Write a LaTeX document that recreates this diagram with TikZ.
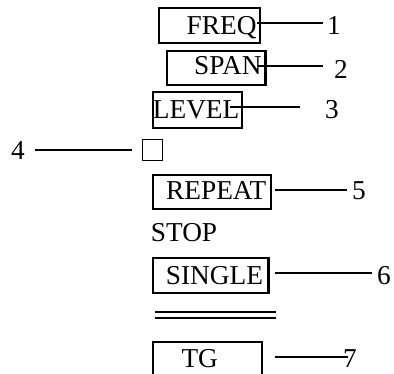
\documentclass[tikz,border=0pt]{standalone}
\usepackage{fontspec}
\setmainfont{Liberation Serif}
\begin{document}
\begin{tikzpicture}[x=1pt,y=-1pt,
  key/.style={draw,line width=2.2pt,rectangle,inner sep=0pt,anchor=north west},
  txt/.style={inner sep=0pt,anchor=base west,font=\fontsize{27.3}{30}\selectfont},
  lead/.style={line width=2pt},
  rule/.style={line width=2.2pt}]
\useasboundingbox (0,0) rectangle (394,374);
\clip (0,0) rectangle (394,374);

% framed keys
\node[key,minimum width=101.3pt,minimum height=35pt] (bfreq)   at (157.7,7.3)   {};
\node[key,minimum width=98.6pt, minimum height=34pt] (bspan)   at (165.7,50)    {};
\node[key,minimum width=89pt,   minimum height=35.7pt] (blevel) at (151.7,91)   {};
\node[key,minimum width=118.3pt,minimum height=34pt] (brepeat) at (151.7,174.3) {};
\node[key,minimum width=115.6pt,minimum height=35pt] (bsingle) at (151.7,257.3) {};
\node[key,minimum width=109.3pt,minimum height=50pt] (btg)     at (151.7,340.7) {};

% key captions
\node[txt] (freq)   at (186.5,35)    {FREQ};
\node[txt] (span)   at (194,75)      {SPAN};
\node[txt] (level)  at (152.7,118.3) {LEVEL};
\node[txt] (repeat) at (166,200)     {REPEAT};
\node[txt] (stop)   at (150.7,241.7) {STOP};
\node[txt] (single) at (165.7,285)   {SINGLE};
\node[txt] (tg)     at (181.3,368)   {TG};

% small indicator square
\node[draw,line width=1pt,inner sep=0pt,minimum width=20pt,minimum height=20.5pt] (sq) at (152.5,150) {};

% double rule
\coordinate (r1a) at (155,311.7); \coordinate (r1b) at (276,311.7);
\coordinate (r2a) at (155,318.3); \coordinate (r2b) at (276,318.3);
\draw[rule] (r1a) -- (r1b);
\draw[rule] (r2a) -- (r2b);

% callout numbers
\node[txt] (n1) at (327,35)    {1};
\node[txt] (n2) at (334,78.3)  {2};
\node[txt] (n3) at (325,118.3) {3};
\node[txt] (n4) at (11,160)    {4};
\node[txt] (n5) at (352,200)   {5};
\node[txt] (n6) at (377,285)   {6};
\node[txt] (n7) at (343,368)   {7};

% leader lines
\coordinate (a1) at (257,23.3);  \coordinate (e1) at (323,23.3);
\coordinate (a2) at (258,65.7);  \coordinate (e2) at (323,65.7);
\coordinate (a3) at (230,107.3); \coordinate (e3) at (300,107.3);
\coordinate (a4) at (35,150);    \coordinate (e4) at (131.7,150);
\coordinate (a5) at (275,190);   \coordinate (e5) at (346.7,190);
\coordinate (a6) at (275,273.3); \coordinate (e6) at (371.7,273.3);
\coordinate (a7) at (275,356.7); \coordinate (e7) at (348,356.7);
\draw[lead] (a1) -- (e1);
\draw[lead] (a2) -- (e2);
\draw[lead] (a3) -- (e3);
\draw[lead] (a4) -- (e4);
\draw[lead] (a5) -- (e5);
\draw[lead] (a6) -- (e6);
\draw[lead] (a7) -- (e7);
\end{tikzpicture}
\end{document}
